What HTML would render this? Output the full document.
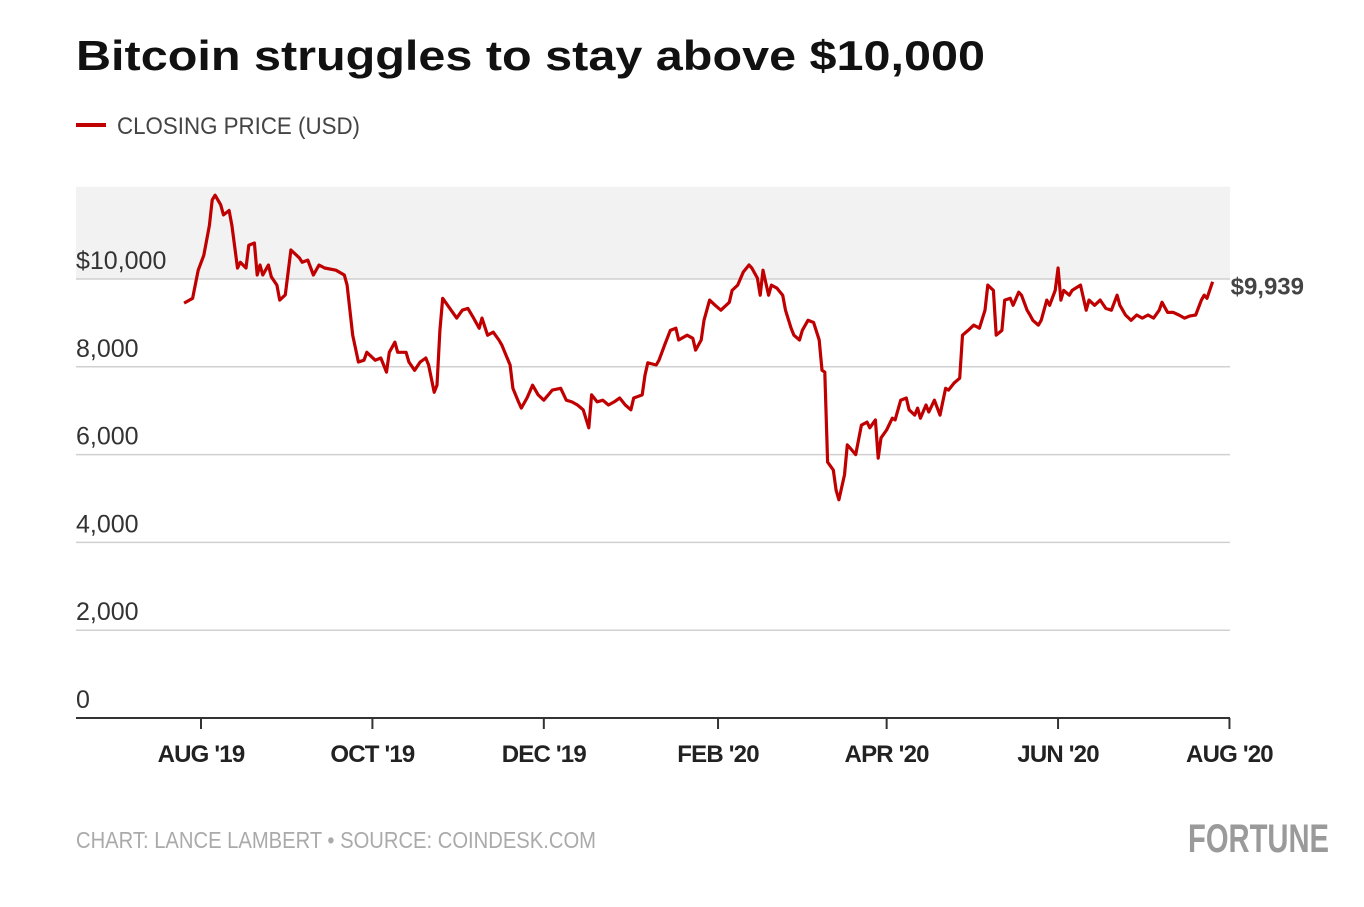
<!DOCTYPE html>
<html><head><meta charset="utf-8">
<style>
body{margin:0;background:#fff;width:1364px;height:902px;overflow:hidden;font-family:"Liberation Sans",sans-serif;}
</style></head>
<body>
<svg id="chart" width="1364" height="902" xmlns="http://www.w3.org/2000/svg" font-family="Liberation Sans, sans-serif">
<text x="76" y="70" font-size="42" font-weight="bold" fill="#111" textLength="909" lengthAdjust="spacingAndGlyphs">Bitcoin struggles to stay above $10,000</text>
<g>
<line x1="76" y1="125" x2="106" y2="125" stroke="#c00000" stroke-width="4"/>
<text x="117" y="134" font-size="24" fill="#444" textLength="243" lengthAdjust="spacingAndGlyphs">CLOSING PRICE (USD)</text>
</g>
<rect id="band" x="76" width="1154" fill="#f2f2f2"/>
<g id="grid"></g>
<g id="xaxis"></g>
<path id="line" fill="none" stroke="#c00000" stroke-width="3.2" stroke-linejoin="round"/>
<text id="lastlabel" font-size="24" fill="#444" font-weight="bold"></text>
<text x="76" y="848" font-size="23" fill="#aaa" textLength="520" lengthAdjust="spacingAndGlyphs">CHART: LANCE LAMBERT • SOURCE: COINDESK.COM</text>
<text x="1188" y="852" font-size="40" font-weight="bold" fill="#9a9a9a" textLength="141" lengthAdjust="spacingAndGlyphs">FORTUNE</text>
</svg>
<script>
const days=[-6,-3,-1,1,3,4,5,7,8,10,11,13,14,16,17,19,20,21,22,24,25,27,28,30,32,35,36,38,40,42,44,48,51,52,54,56,58,59,62,64,66,67,69,70,73,74,76,78,80,81,83,84,85,86,89,91,93,95,97,99,100,102,104,106,107,110,111,113,114,116,118,120,122,125,128,130,132,134,136,138,139,141,143,145,147,149,151,153,154,157,158,159,162,163,165,167,169,170,173,175,176,178,179,181,183,185,188,189,191,193,195,196,198,199,200,202,203,205,207,208,210,211,213,214,216,218,220,221,222,223,225,226,227,229,230,231,233,235,237,238,240,241,242,244,246,247,249,251,252,254,255,256,258,259,261,263,265,266,268,270,271,273,275,277,279,280,282,283,285,286,288,289,291,292,294,295,296,298,299,301,302,304,305,306,307,309,310,313,315,316,318,320,322,324,326,327,329,331,333,335,337,339,341,342,344,346,348,350,352,354,356,357,358,360];
const prices=[9450,9560,10200,10540,11220,11800,11910,11690,11460,11560,11220,10250,10380,10250,10770,10820,10090,10320,10090,10320,10050,9860,9520,9640,10660,10480,10380,10430,10090,10320,10250,10200,10090,9860,8720,8110,8150,8330,8150,8200,7880,8330,8560,8330,8330,8110,7920,8110,8200,8040,7420,7580,8830,9560,9290,9110,9290,9330,9110,8880,9110,8720,8790,8610,8500,8040,7510,7200,7060,7290,7580,7360,7240,7470,7510,7240,7200,7130,7020,6610,7360,7200,7240,7130,7200,7290,7130,7020,7290,7360,7810,8090,8040,8150,8500,8830,8880,8610,8720,8650,8380,8610,9060,9520,9400,9290,9470,9740,9860,10160,10320,10250,10020,9630,10200,9630,9860,9790,9630,9290,8880,8720,8610,8830,9060,9010,8610,7920,7880,5830,5650,5190,4970,5540,6220,6150,6000,6670,6740,6610,6790,5920,6380,6560,6830,6790,7240,7290,7020,6900,7060,6830,7130,6970,7240,6900,7510,7470,7630,7740,8720,8830,8950,8880,9290,9860,9740,8720,8830,9520,9560,9400,9700,9630,9290,9180,9060,8950,9060,9520,9400,9740,10250,9520,9740,9630,9740,9860,9290,9520,9400,9520,9330,9290,9630,9400,9180,9060,9180,9110,9180,9110,9290,9470,9240,9240,9180,9110,9160,9180,9520,9630,9560,9939];
const yTicks=[0,2000,4000,6000,8000,10000];
const yTickLabels=["0","2,000","4,000","6,000","8,000","$10,000"];
const xTickDays=[0,61,122,184,244,305,366];
const xTickLabels=["AUG '19","OCT '19","DEC '19","FEB '20","APR '20","JUN '20","AUG '20"];
const bandTop=12100;
const lastLabel="$9,939";

const X=d=>201+d*2.81;
const Y=v=>718-v*0.0439;
const NS="http://www.w3.org/2000/svg";
const band=document.getElementById('band');
band.setAttribute('y',Y(bandTop));band.setAttribute('height',Y(10000)-Y(bandTop));
const grid=document.getElementById('grid');
yTicks.forEach((t,i)=>{
  if(t>0){const l=document.createElementNS(NS,'line');
  
  
  l.setAttribute('x1',76);l.setAttribute('x2',1230);l.setAttribute('y1',Y(t));l.setAttribute('y2',Y(t));
  l.setAttribute('stroke','#d0d0d0');l.setAttribute('stroke-width','1.5');grid.appendChild(l);}
  const tx=document.createElementNS(NS,'text');
  
  
  tx.setAttribute('x',76);tx.setAttribute('y',Y(t)-10);tx.setAttribute('font-size','25');tx.setAttribute('fill','#333');
  tx.textContent=yTickLabels[i];grid.appendChild(tx);
});
const xa=document.getElementById('xaxis');
const base=document.createElementNS(NS,'line');


base.setAttribute('x1',76);base.setAttribute('x2',1230);base.setAttribute('y1',718);base.setAttribute('y2',718);base.setAttribute('stroke','#333');base.setAttribute('stroke-width','2');xa.appendChild(base);
xTickDays.forEach((d,i)=>{
  const t=document.createElementNS(NS,'line');
  
  
  t.setAttribute('x1',X(d));t.setAttribute('x2',X(d));t.setAttribute('y1',718);t.setAttribute('y2',729);t.setAttribute('stroke','#333');t.setAttribute('stroke-width','2');xa.appendChild(t);
  const tx=document.createElementNS(NS,'text');
  
  
  tx.setAttribute('x',X(d));tx.setAttribute('y',762);tx.setAttribute('text-anchor','middle');tx.setAttribute('font-size','24');tx.setAttribute('font-weight','bold');tx.setAttribute('fill','#222');tx.setAttribute('letter-spacing','-0.8');
  tx.textContent=xTickLabels[i];xa.appendChild(tx);
});
document.getElementById('line').setAttribute('d',days.map((d,i)=>(i?'L':'M')+X(d).toFixed(1)+' '+Y(prices[i]).toFixed(1)).join(''));
const ll=document.getElementById('lastlabel');
ll.setAttribute('x',X(days[days.length-1])+18);ll.setAttribute('y',Y(prices[prices.length-1])+13);ll.textContent=lastLabel;
</script>
</body></html>
